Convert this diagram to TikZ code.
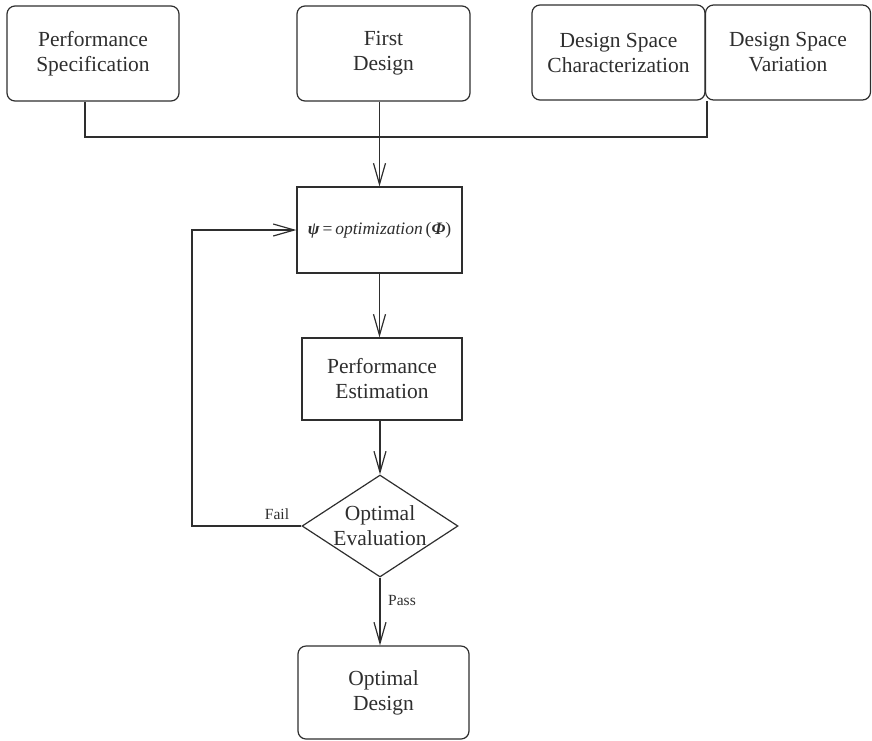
\documentclass[tikz,border=0pt]{standalone}
\usepackage{fontspec}
\setmainfont{Liberation Serif}
\usetikzlibrary{arrows.meta,shapes.geometric}
\begin{document}
\begin{tikzpicture}[x=1pt,y=-1pt,
  line width=1.2pt, color=black!82,
  bigtext/.style={font=\fontsize{21.5}{25}\selectfont, align=center},
  roundbox/.style={draw, rounded corners=8pt, inner sep=0pt, bigtext},
  sqbox/.style={draw, inner sep=0pt, bigtext},
  decision/.style={draw, diamond, inner sep=0pt, minimum width=156pt, minimum height=102pt},
  arr/.style={-{Straight Barb[length=21pt,width=12pt,line width=1.2pt]}},
  small/.style={font=\fontsize{15.5}{18}\selectfont}]
  \useasboundingbox (0,0) rectangle (872,740);

  % top row of inputs
  \node[roundbox, minimum width=172pt, minimum height=95pt] (ps) at (93,53.5) {Performance\\Specification};
  \node[roundbox, minimum width=173pt, minimum height=95pt] (fd) at (383.5,53.5) {First\\Design};
  \node[roundbox, minimum width=173pt, minimum height=95pt] (dsc) at (618.5,52.5) {Design Space\\Characterization};
  \node[roundbox, minimum width=165pt, minimum height=95pt] (dsv) at (788,52.5) {Design Space\\Variation};

  % optimisation loop
  \node[sqbox, minimum width=165pt, minimum height=86pt] (opt) at (379.5,230)
    {\fontsize{17.5}{20}\selectfont\textbf{\textit{ψ}}\,=\,\textit{optimization}\,(\textbf{\textit{Φ}})};
  \node[sqbox, minimum width=160pt, minimum height=82pt] (pe) at (382,379) {Performance\\Estimation};
  \node[decision] (dia) at (380,526) {};
  \node[bigtext] (diatext) at (dia.center) {Optimal\\Evaluation};
  \node[roundbox, minimum width=171pt, minimum height=93pt] (od) at (383.5,692.5) {Optimal\\Design};

  % input bus
  \coordinate (busL) at (85,137);
  \coordinate (busR) at (707,137);
  \draw (ps.south -| busL) -- (busL) -- (busR) -- (busR |- dsv.south);
  \draw[arr] (opt.north |- fd.south) -- (opt.north);

  % main flow
  \draw[arr] (opt.south) -- (opt.south |- pe.north);
  \draw[arr] (dia.north |- pe.south) -- (dia.north);
  \draw[arr] (dia.south) -- (dia.south |- od.north);
  \node[small] (pass) at (402,600) {Pass};

  % feedback on failure
  \coordinate (fb) at (192,526);
  \draw[arr] (dia.west) -- (fb) |- (opt.west);
  \node[small] (fail) at (277,514) {Fail};
\end{tikzpicture}
\end{document}
